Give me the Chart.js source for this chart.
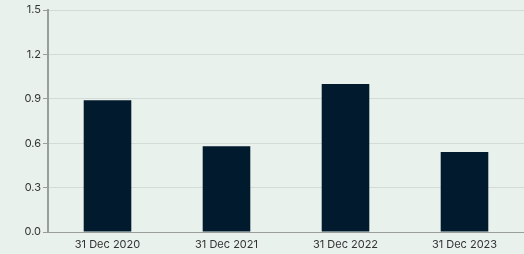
<!DOCTYPE html>
<html>
<head>
<meta charset="utf-8">
<script src="https://cdn.jsdelivr.net/npm/chart.js@4"></script>
<style>
  html, body { margin: 0; padding: 0; background: #e8f1ec; }
  #wrap { width: 524px; height: 254px; }
</style>
</head>
<body>
<div id="wrap"><canvas id="barChart"></canvas></div>
<script>
// data
const categories = ['31 Dec 2020', '31 Dec 2021', '31 Dec 2022', '31 Dec 2023'];
const values = [0.89, 0.58, 1.0, 0.54];
const yTicks = [0, 0.3, 0.6, 0.9, 1.2, 1.5];

const ctx = document.getElementById('barChart').getContext('2d');
new Chart(ctx, {
    type: 'bar',
    data: {
        labels: categories,
        datasets: [{
            data: values,
            backgroundColor: '#021a2d',
            barPercentage: 0.4,
            categoryPercentage: 1.0
        }]
    },
    options: {
        responsive: true,
        maintainAspectRatio: false,
        animation: false,
        layout: { padding: { top: 10, right: 0, left: 0, bottom: 0 } },
        plugins: { legend: { display: false }, tooltip: { enabled: false } },
        scales: {
            x: {
                grid: { display: false, drawTicks: false },
                border: { color: '#9a9e9b', width: 1 },
                ticks: { color: '#333', font: { family: 'Inter', size: 11 }, padding: 6 },
                afterFit: function(axis) { axis.height = 22; }
            },
            y: {
                min: 0,
                max: 1.5,
                afterBuildTicks: function(axis) { axis.ticks = yTicks.map(v => ({ value: v })); },
                grid: { color: '#d3dbd6', tickLength: 5, tickColor: '#9a9e9b' },
                border: { color: '#9a9e9b', width: 2 },
                ticks: {
                    color: '#333',
                    font: { family: 'Inter', size: 11 },
                    padding: 2,
                    callback: function(value) { return value.toFixed(1); }
                },
                afterFit: function(axis) { axis.width = 48; }
            }
        }
    }
});
</script>
</body>
</html>
